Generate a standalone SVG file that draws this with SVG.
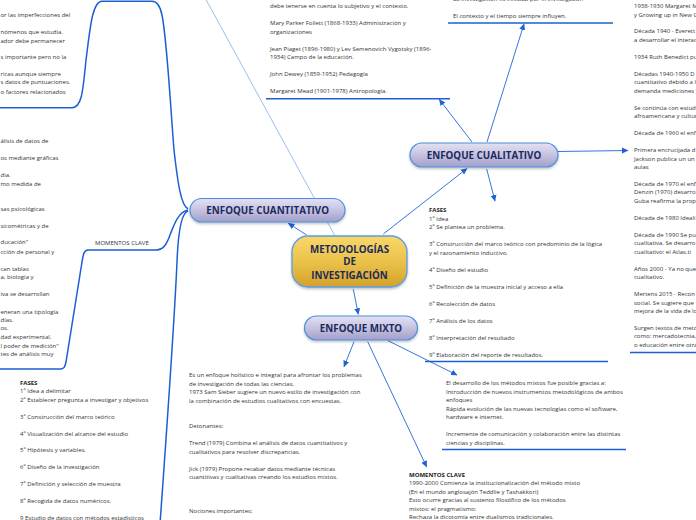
<svg xmlns="http://www.w3.org/2000/svg" width="696" height="520" viewBox="0 0 696 520">
<defs>
<linearGradient id="gLav" x1="0" y1="0" x2="0" y2="1">
<stop offset="0" stop-color="#e4e1f3"/><stop offset="0.45" stop-color="#c8c5e3"/><stop offset="1" stop-color="#a29fca"/>
</linearGradient>
<linearGradient id="gGold" x1="0" y1="0" x2="0" y2="1">
<stop offset="0" stop-color="#f8d86a"/><stop offset="0.5" stop-color="#ebc24a"/><stop offset="1" stop-color="#d4a22a"/>
</linearGradient>
<filter id="sh" x="-10%" y="-20%" width="120%" height="150%">
<feDropShadow dx="0" dy="1.5" stdDeviation="1.2" flood-color="#000" flood-opacity="0.25"/>
</filter>
<marker id="ah" markerUnits="userSpaceOnUse" markerWidth="7" markerHeight="7" refX="6" refY="3.5" orient="auto">
<path d="M0,0.5 L6.5,3.5 L0,6.5 z" fill="#1f62d2"/>
</marker>
</defs>
<style>
text{font-family:"Open Sans","Noto Sans","Liberation Sans",sans-serif;}
.t{font-size:6px;fill:#333;}
.b{font-weight:bold;fill:#222;}
.lab{font-size:9.8px;font-weight:bold;fill:#1b2a5c;text-anchor:middle;}
.topic{fill:url(#gLav);stroke:#4a8fe2;stroke-width:1.2;filter:url(#sh);}
.central{fill:url(#gGold);stroke:#5a9ce8;stroke-width:1.3;filter:url(#sh);}
.curve{fill:none;stroke:#1c5fd4;stroke-width:1.5;}
.ul{fill:none;stroke:#1c5fd4;stroke-width:1.5;}
.arr{fill:none;stroke:#2265d4;stroke-width:0.9;marker-end:url(#ah);}
.thin{fill:none;stroke:#8fb8f0;stroke-width:0.9;}
</style>

<g id="connectors">
<line class="thin" x1="203" y1="-6" x2="335" y2="236"/>
<path class="curve" d="M188,209 C181,205 178,185 174,150 C170,100 167,40 162,15 C160,5 157,1.2 152,1.2 L102,1.2 C92,1.2 90,30 86,60 C83,90 82,107.7 72,107.7 L0,107.7"/>
<path class="curve" d="M188,210 C178,212 174,225 170,235 C166,246 163,250 155,250 L88,250 C84,250 83,255 82,262 L66,362 C65,367 64,369 60,369 L0,369"/>
<path class="curve" d="M188,211 C181,213 178,235 177,262 C174,330 166,440 160,524"/>
<line class="arr" x1="306.7" y1="235" x2="288.3" y2="223.3"/>
<line class="arr" x1="353.3" y1="289.3" x2="358.3" y2="314.3"/>
<line class="arr" x1="383.3" y1="234" x2="467" y2="168.5"/>
<line class="arr" x1="472" y1="142" x2="439.3" y2="99.5"/>
<line class="arr" x1="487" y1="142" x2="524" y2="24"/>
<line class="arr" x1="486.7" y1="169" x2="495" y2="201"/>
<line class="arr" x1="558" y1="151.5" x2="628" y2="150.5"/>
<line class="arr" x1="354" y1="341.7" x2="344" y2="366.7"/>
<line class="arr" x1="367.7" y1="341.7" x2="426.7" y2="467"/>
<line class="arr" x1="388" y1="340.7" x2="457" y2="375"/>
<line class="ul" x1="266" y1="98.7" x2="450" y2="98.7"/>
<line class="ul" x1="448" y1="23" x2="613" y2="23"/>
<line class="ul" x1="425" y1="361.5" x2="608" y2="361.5"/>
<line class="ul" x1="630" y1="352.5" x2="696" y2="352.5"/>
<line class="ul" x1="442" y1="449.5" x2="626" y2="449.5"/>
</g>

<g id="central">
<rect class="central" x="292" y="236" width="115" height="51" rx="16"/>
<text class="lab" x="349.5" y="252.7">METODOLOGÍAS</text>
<text class="lab" x="349.5" y="265.3">DE</text>
<text class="lab" x="349.5" y="279.3">INVESTIGACIÓN</text>
</g>

<g id="cuantitativo">
<rect class="topic" x="190" y="198.5" width="155" height="23.5" rx="11.7"/>
<text class="lab" x="267.7" y="214.3">ENFOQUE CUANTITATIVO</text>
</g>

<g id="cualitativo">
<rect class="topic" x="410" y="143" width="148" height="24" rx="12"/>
<text class="lab" x="484" y="158.6">ENFOQUE CUALITATIVO</text>
</g>

<g id="mixto">
<rect class="topic" x="304.5" y="316" width="113" height="24" rx="12"/>
<text class="lab" x="361" y="332.3">ENFOQUE MIXTO</text>
</g>

<g id="cuant-texto-1">
<text class="t" x="0.5" y="16.7">or las imperfecciones del</text>
<text class="t" x="0.5" y="34">nómenos que estudia.</text>
<text class="t" x="0.5" y="42.7">ador debe permanecer</text>
<text class="t" x="0.5" y="59">s importante pero no la</text>
<text class="t" x="0.5" y="76">ricas aunque siempre</text>
<text class="t" x="0.5" y="84">s datos de puntuaciones.</text>
<text class="t" x="0.5" y="93.5">o factores relacionados</text>
</g>

<g id="cuant-momentos">
<text class="t" x="95" y="244.5">MOMENTOS CLAVE</text>
</g>

<g id="cuant-texto-2">
<text class="t" x="0.5" y="142.7">álisis de datos de</text>
<text class="t" x="0.5" y="160">os mediante gráficas</text>
<text class="t" x="0.5" y="177">dia.</text>
<text class="t" x="0.5" y="185.7">mo medida de</text>
<text class="t" x="0.5" y="211">sas psicológicas</text>
<text class="t" x="0.5" y="227.7">sicométricas y de</text>
<text class="t" x="0.5" y="244">ducación"</text>
<text class="t" x="0.5" y="253.7">cción de personal y</text>
<text class="t" x="0.5" y="271">can tablas</text>
<text class="t" x="0.5" y="278.7">a, biología y</text>
<text class="t" x="0.5" y="296">iva se desarrollan</text>
<text class="t" x="0.5" y="313.7">eneran una tipología</text>
<text class="t" x="0.5" y="322">días.</text>
<text class="t" x="0.5" y="330">os.</text>
<text class="t" x="0.5" y="338.7">dad experimental.</text>
<text class="t" x="0.5" y="347.7">l poder de medición"</text>
<text class="t" x="0.5" y="356">tes de análisis muy</text>
</g>

<g id="cuant-fases">
<text class="t b" x="20" y="384.7">FASES</text>
<text class="t" x="20" y="393.2">1º Idea a delimitar</text>
<text class="t" x="20" y="401.6">2º Establecer pregunta a investigar y objetivos</text>
<text class="t" x="20" y="418.5">3º Construcción del marco teórico</text>
<text class="t" x="20" y="435.5">4º Visualización del alcance del estudio</text>
<text class="t" x="20" y="452.4">5º Hipótesis y variables.</text>
<text class="t" x="20" y="469.3">6º Diseño de la investigación</text>
<text class="t" x="20" y="486.2">7º Definición y selección de muestra</text>
<text class="t" x="20" y="503.1">8º Recogida de datos numéricos.</text>
<text class="t" x="20" y="520">9 Estudio de datos con métodos estadísticos</text>
</g>

<g id="cual-autores">
<text class="t" x="270" y="8.3">debe tenerse en cuenta lo subjetivo y el contexto.</text>
<text class="t" x="270" y="25.3">Mary Parker Follett (1868-1933) Administración y</text>
<text class="t" x="270" y="33.8">organizaciones</text>
<text class="t" x="270" y="50.8">Jean Piaget (1896-1980) y Lev Semenovich Vygotsky (1896-</text>
<text class="t" x="270" y="59.3">1934) Campo de la educación.</text>
<text class="t" x="270" y="76.3">John Dewey (1859-1952) Pedagogía</text>
<text class="t" x="270" y="93.3">Margaret Mead (1901-1978) Antropología.</text>
</g>

<g id="cual-contexto">
<text class="t" x="453" y="1.2">La investigación es iniciada por el investigador.</text>
<text class="t" x="453" y="18">El contexto y el tiempo siempre influyen.</text>
</g>

<g id="cual-historia">
<text class="t" x="634" y="8">1938-1930 Margaret M</text>
<text class="t" x="634" y="16.5">y Growing up in New G</text>
<text class="t" x="634" y="33.4">Década 1940 - Everett</text>
<text class="t" x="634" y="41.9">a desarrollar el interac</text>
<text class="t" x="634" y="58.8">1934 Ruth Benedict pu</text>
<text class="t" x="634" y="75.8">Décadas 1940-1950 D</text>
<text class="t" x="634" y="84.2">cuantitativo debido a l</text>
<text class="t" x="634" y="92.7">demanda mediciones y</text>
<text class="t" x="634" y="109.6">Se continúa con estudi</text>
<text class="t" x="634" y="118.1">afroamericana y cultur</text>
<text class="t" x="634" y="135">Década de 1960 el enf</text>
<text class="t" x="634" y="152">Primera encrucijada d</text>
<text class="t" x="634" y="160.5">Jackson publica un un t</text>
<text class="t" x="634" y="168.9">aulas</text>
<text class="t" x="634" y="185.9">Década de 1970 el enf</text>
<text class="t" x="634" y="194.3">Denzin (1970) desarro</text>
<text class="t" x="634" y="202.8">Guba reafirma la propo</text>
<text class="t" x="634" y="219.8">Década de 1980 Ideali</text>
<text class="t" x="634" y="236.7">Década de 1990 Se pu</text>
<text class="t" x="634" y="245.2">cualitativa. Se desarro</text>
<text class="t" x="634" y="253.6">cualitativo: el Atlas.ti</text>
<text class="t" x="634" y="270.6">Años 2000 - Ya no que</text>
<text class="t" x="634" y="279">cualitativo.</text>
<text class="t" x="634" y="296">Mertens 2015 - Recon</text>
<text class="t" x="634" y="304.5">social. Se sugiere que</text>
<text class="t" x="634" y="312.9">mejora de la vida de lo</text>
<text class="t" x="634" y="329.9">Surgen textos de meto</text>
<text class="t" x="634" y="338.3">como: mercadotecnia,</text>
<text class="t" x="634" y="346.8">o educación entre otra</text>
</g>

<g id="cual-fases">
<text class="t b" x="429" y="212">FASES</text>
<text class="t" x="429" y="220.5">1º Idea</text>
<text class="t" x="429" y="229.1">2º Se plantea un problema.</text>
<text class="t" x="429" y="246.1">3º Construcción del marco teórico con predominio de la lógica</text>
<text class="t" x="429" y="254.7">y el razonamiento inductivo.</text>
<text class="t" x="429" y="271.7">4º Diseño del estudio</text>
<text class="t" x="429" y="288.8">5º Definición de la muestra inicial y acceso a ella</text>
<text class="t" x="429" y="305.8">6º Recolección de datos</text>
<text class="t" x="429" y="322.9">7º Análisis de los datos</text>
<text class="t" x="429" y="340">8º Interpretación del resultado</text>
<text class="t" x="429" y="357">9º Elaboración del reporte de resultados.</text>
</g>

<g id="mixto-definicion">
<text class="t" x="189" y="377">Es un enfoque holístico e integral para afrontar los problemas</text>
<text class="t" x="189" y="385.5">de investigación de todas las ciencias.</text>
<text class="t" x="189" y="394">1973 Sam Sieber sugiere un nuevo estilo de investigación con</text>
<text class="t" x="189" y="402.5">la combinación de estudios cualitativos con encuestas.</text>
<text class="t" x="189" y="428">Detonantes:</text>
<text class="t" x="189" y="445">Trend (1979) Combina el análisis de datos cuantitativos y</text>
<text class="t" x="189" y="453.5">cualitativos para resolver discrepancias.</text>
<text class="t" x="189" y="470.5">Jick (1979) Propone recabar datos mediante técnicas</text>
<text class="t" x="189" y="479">cuantitivas y cualitativas creando los estudios mixtos.</text>
<text class="t" x="189" y="513">Nociones importantes:</text>
</g>

<g id="mixto-desarrollo">
<text class="t" x="446" y="385.3">El desarrollo de los métodos mixtos fue posible gracias a:</text>
<text class="t" x="446" y="393.8">Introducción de nuevos instrumentos metodológicos de ambos</text>
<text class="t" x="446" y="402.3">enfoques</text>
<text class="t" x="446" y="410.8">Rápida evolución de las nuevas tecnologías como el software,</text>
<text class="t" x="446" y="419.3">hardware e internet.</text>
<text class="t" x="446" y="436.3">Incremente de comunicación y colaboración entre las distintas</text>
<text class="t" x="446" y="444.8">ciencias y disciplinas.</text>
</g>

<g id="mixto-momentos">
<text class="t b" x="409" y="476.5">MOMENTOS CLAVE</text>
<text class="t" x="409" y="485">1990-2000 Comienza la institucionalización del método mixto</text>
<text class="t" x="409" y="493.5">(En el mundo anglosajón Teddlie y Tashakkori)</text>
<text class="t" x="409" y="502">Esto ocurre gracias al sustento filosófico de los métodos</text>
<text class="t" x="409" y="510.5">mixtos: el pragmatismo:</text>
<text class="t" x="409" y="519">Rechaza la dicotomía entre dualismos tradicionales.</text>
</g>
</svg>
